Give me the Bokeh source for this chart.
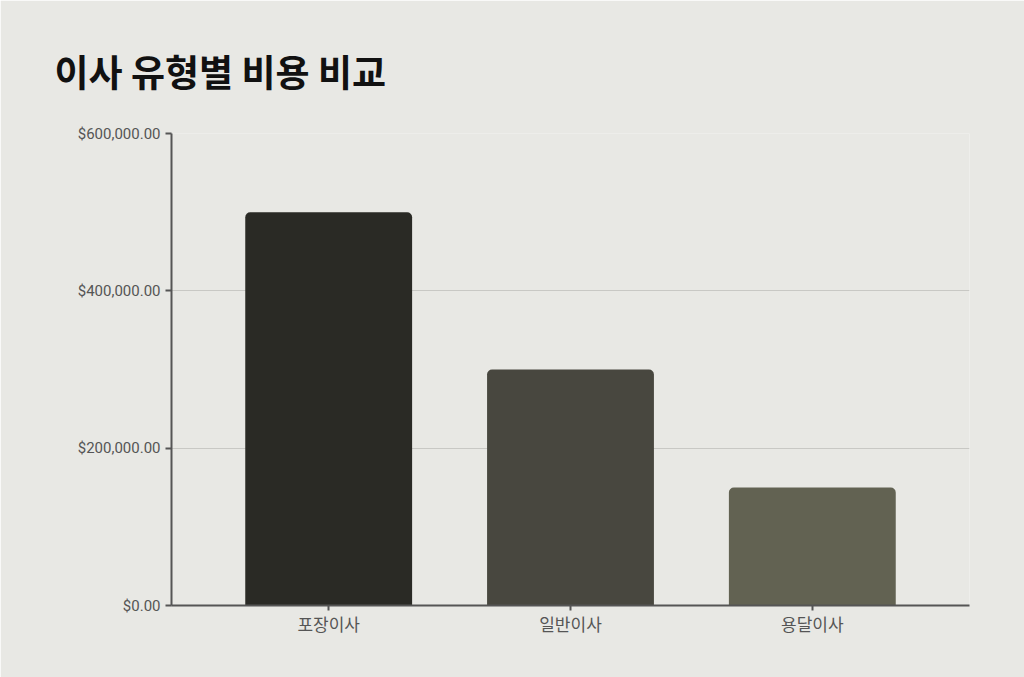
from bokeh.plotting import figure
from bokeh.models import ColumnDataSource, NumeralTickFormatter, FixedTicker, Range1d
from bokeh.embed import file_html
from bokeh.resources import INLINE

categories = ["포장이사", "일반이사", "용달이사"]
costs = [500000, 300000, 150000]
colors = ["#2a2a25", "#48473f", "#626252"]
y_ticks = [0, 200000, 400000, 600000]

BG = "#e8e8e4"
AX = "#555555"

source = ColumnDataSource(dict(cat=categories, cost=costs, color=colors))

p = figure(x_range=categories, y_range=Range1d(0, 600000),
           frame_width=798, frame_height=472,
           output_backend="svg", toolbar_location=None,
           min_border_left=171, min_border_right=55, min_border_top=133,
           min_border_bottom=72,
           title="이사 유형별 비용 비교")
p.x_range.range_padding = 0.1

p.vbar(x="cat", top="cost", width=0.69, color="color", source=source,
       line_color=None, border_radius=(5, 5, 0, 0))

p.title.text_font = "Noto Sans CJK KR"
p.title.text_font_size = "37px"
p.title.text_font_style = "bold"
p.title.text_color = "#111111"
p.title.offset = -117
p.title.standoff = 72

p.background_fill_color = BG
p.border_fill_color = BG
p.outline_line_color = None

p.yaxis.ticker = FixedTicker(ticks=y_ticks)
p.yaxis.formatter = NumeralTickFormatter(format="$0,0.00")
for ax in (p.xaxis, p.yaxis):
    ax.axis_line_color = AX
    ax.axis_line_width = 2
    ax.major_tick_line_color = AX
    ax.major_tick_line_width = 2
    ax.major_tick_in = 0
    ax.major_tick_out = 6
    ax.minor_tick_line_color = None
    ax.major_label_text_color = "#555555"
p.yaxis.major_label_text_font = "Roboto"
p.yaxis.major_label_text_font_size = "15px"
p.xaxis.major_label_text_font = "Noto Sans CJK KR"
p.xaxis.major_label_text_font_size = "17px"
p.xaxis.major_tick_out = 5
p.xaxis.major_label_standoff = 0

p.xgrid.grid_line_color = None
p.ygrid.grid_line_color = "#c8c8c4"
p.ygrid.grid_line_width = 1

open("out.html", "w").write(file_html(p, INLINE))
